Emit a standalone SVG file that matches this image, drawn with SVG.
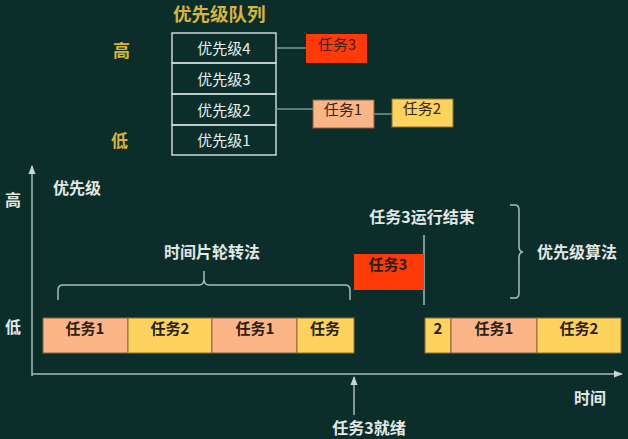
<svg xmlns="http://www.w3.org/2000/svg" width="628" height="439" viewBox="0 0 628 439">
<defs>
<style>
text{font-family:"Noto Sans CJK SC","Noto Sans",sans-serif;}
.y{fill:#d9b43c;font-size:17px;font-weight:bold}
.w{fill:#e2e8e6;font-size:16px;font-weight:bold}
.q{fill:#e8eeec;font-size:15px;text-anchor:middle}
.t{fill:#2a1d14;font-size:15px;font-weight:bold;text-anchor:middle}
.tt{fill:#3a2418;font-size:15px;text-anchor:middle}
.cell{fill:none;stroke:#c9d6d3;stroke-width:1.5}
.ln{stroke:#7a9893;stroke-width:1.5;fill:none}
.ax{stroke:#a9bcb8;stroke-width:1.5;fill:none}
.sal{fill:#fbb586;stroke:#8a6040;stroke-width:1}
.yel{fill:#fdd35e;stroke:#8a7030;stroke-width:1}
.red{fill:#ff3a08}
</style>
<marker id="arr" viewBox="0 0 10 10" refX="9" refY="5" markerWidth="6" markerHeight="6" orient="auto-start-reverse"><path d="M0,1 L10,5 L0,9 z" fill="#c9d6d3"/></marker>
</defs>
<rect width="628" height="439" fill="#0b2e2a"/>

<text class="y" x="173" y="21" font-size="18.5" style="font-size:18.5px">优先级队列</text>
<text class="y" x="113" y="57">高</text>
<text class="y" x="111" y="147">低</text>

<g id="queue">
<rect class="cell" x="172" y="33" width="104" height="30"/>
<rect class="cell" x="172" y="63" width="104" height="31"/>
<rect class="cell" x="172" y="94" width="104" height="31"/>
<rect class="cell" x="172" y="125" width="104" height="30"/>
<text class="q" x="224" y="54">优先级4</text>
<text class="q" x="224" y="85">优先级3</text>
<text class="q" x="224" y="116">优先级2</text>
<text class="q" x="224" y="146">优先级1</text>
</g>

<g id="connectors">
<line class="ln" x1="276" y1="48" x2="306" y2="48"/>
<line class="ln" x1="276" y1="109" x2="313" y2="109"/>
<line class="ln" x1="374" y1="114" x2="392" y2="114"/>
<line class="ax" x1="32" y1="376" x2="32" y2="166" marker-end="url(#arr)"/>
<line class="ax" x1="32" y1="374" x2="622" y2="374" marker-end="url(#arr)"/>
<line class="ax" x1="354" y1="415" x2="354" y2="377" marker-end="url(#arr)"/>
<line class="ax" x1="424" y1="235" x2="424" y2="305"/>
<path class="ax" d="M58,300 L58,290 Q58,285 63,285 L199,285 Q204,285 204,279 L204,271 M204,279 Q204,285 209,285 L345,285 Q350,285 350,290 L350,300"/>
<path class="ax" d="M510,205 L515,205 Q519,205 519,210 L519,246 Q519,252 523,252 M523,252 Q519,252 519,258 L519,293 Q519,298 515,298 L510,298"/>
</g>

<g id="task3-q"><rect class="red" x="306" y="34" width="61" height="29"/><text class="tt" x="337" y="50">任务3</text></g>
<g id="task1-q"><rect class="sal" x="313" y="100" width="61" height="28"/><text class="tt" x="343" y="115">任务1</text></g>
<g id="task2-q"><rect class="yel" x="392" y="99" width="61" height="28"/><text class="tt" x="422" y="114">任务2</text></g>

<text class="w" x="5" y="206" font-weight="normal">高</text>
<text class="w" x="5" y="333" font-weight="normal">低</text>
<text class="w" x="53" y="194">优先级</text>
<text class="w" x="212" y="258" text-anchor="middle">时间片轮转法</text>
<text class="w" x="422" y="223" text-anchor="middle">任务3运行结束</text>
<text class="w" x="577" y="258" text-anchor="middle">优先级算法</text>
<text class="w" x="590" y="404" text-anchor="middle">时间</text>
<text class="w" x="369" y="434" text-anchor="middle">任务3就绪</text>

<g id="bar1"><rect class="sal" x="43" y="318" width="85" height="35"/><text class="t" x="85" y="334">任务1</text></g>
<g id="bar2"><rect class="yel" x="128" y="318" width="84" height="35"/><text class="t" x="170" y="334">任务2</text></g>
<g id="bar3"><rect class="sal" x="212" y="318" width="85" height="35"/><text class="t" x="255" y="334">任务1</text></g>
<g id="bar4"><rect class="yel" x="297" y="318" width="57" height="35"/><text class="t" x="325" y="334">任务</text></g>
<g id="bar-task3"><rect class="red" x="354" y="254" width="70" height="36"/><text class="t" x="388" y="270">任务3</text></g>
<g id="bar5"><rect class="yel" x="425" y="318" width="26" height="35"/><text class="t" x="438" y="334">2</text></g>
<g id="bar6"><rect class="sal" x="451" y="318" width="86" height="35"/><text class="t" x="494" y="334">任务1</text></g>
<g id="bar7"><rect class="yel" x="537" y="318" width="84" height="35"/><text class="t" x="579" y="334">任务2</text></g>
</svg>
